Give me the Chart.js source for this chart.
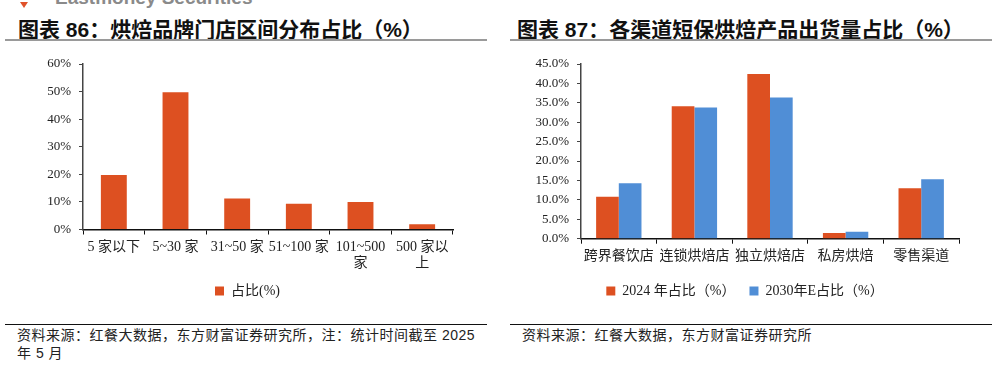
<!DOCTYPE html>
<html>
<head>
<meta charset="utf-8">
<script src="https://cdn.jsdelivr.net/npm/chart.js@4.4.1/dist/chart.umd.min.js"></script>
<style>
  html, body { margin: 0; padding: 0; background: #fff; }
  body { width: 997px; height: 367px; position: relative; overflow: hidden;
         font-family: "Liberation Sans", "Noto Sans CJK SC", sans-serif; }
  .brand { position: absolute; left: 55px; top: -13px; font-size: 19px; font-weight: bold; color: #8a8a8a; }
  .brand-mark { position: absolute; left: 20px; top: 2px; width: 0; height: 0;
                border-left: 4px solid transparent; border-right: 4px solid transparent; border-top: 6px solid #e0522a; }
  .title { position: absolute; top: 13px; font-size: 21px; font-weight: bold; color: #111; white-space: nowrap; }
  .rule { position: absolute; height: 2px; background: #9a9a9a; }
  .src-rule { position: absolute; height: 1px; background: #111; }
  .src { position: absolute; font-size: 14px; line-height: 18px; color: #222; letter-spacing: 0.5px; }
  .box { position: absolute; }
</style>
</head>
<body>
<div class="brand-mark"></div>
<div class="brand">Eastmoney Securities</div>

<div class="title" style="left:18px">图表 86：烘焙品牌门店区间分布占比（%）</div>
<div class="rule" style="left:5px; width:482px; top:39px"></div>
<div class="title" style="left:517px">图表 87：各渠道短保烘焙产品出货量占比（%）</div>
<div class="rule" style="left:510px; width:482px; top:39px"></div>

<div class="box" style="left:0; top:45px; width:500px; height:263px"><canvas id="leftChart"></canvas></div>
<div class="box" style="left:500px; top:45px; width:497px; height:263px"><canvas id="rightChart"></canvas></div>

<div class="src-rule" style="left:5px; width:482px; top:324px"></div>
<div class="src" style="left:17px; top:326px; width:470px">资料来源：红餐大数据，东方财富证券研究所，注：统计时间截至 2025<br>年 5 月</div>
<div class="src-rule" style="left:510px; width:482px; top:324px"></div>
<div class="src" style="left:522px; top:326px">资料来源：红餐大数据，东方财富证券研究所</div>

<script>
// ---- data ----
const storeRanges = ["5 家以下", "5~30 家", "31~50 家", "51~100 家", ["101~500", "家"], ["500 家以", "上"]];
const storeShare = [19.8, 49.8, 11.2, 9.3, 10.0, 1.9];
const storeLabel = "占比(%)";
const storeTicks = [0, 10, 20, 30, 40, 50, 60];

const channels = ["跨界餐饮店", "连锁烘焙店", "独立烘焙店", "私房烘焙", "零售渠道"];
const share2024 = [10.8, 34.1, 42.4, 1.5, 13.0];
const share2030 = [14.3, 33.8, 36.4, 1.8, 15.3];
const seriesNames = ["2024 年占比（%）", "2030年E占比（%）"];
const channelTicks = [0, 5, 10, 15, 20, 25, 30, 35, 40, 45];

const ORANGE = "#dd5021";
const BLUE = "#508ed6";

Chart.defaults.font.family = "'Liberation Serif', 'Noto Sans CJK SC', serif";
Chart.defaults.font.size = 13;
Chart.defaults.color = "#222";

// y axis width is fixed so the plot box lands where the original one is
function yScale(ticks, width, fmt) {
  return {
    min: ticks[0],
    max: ticks[ticks.length - 1],
    afterBuildTicks(scale) { scale.ticks = ticks.map((v) => ({ value: v })); },
    afterFit(scale) { scale.width = width; },
    border: { color: "#444", width: 1.5 },
    grid: { drawOnChartArea: false, drawTicks: true, tickLength: 4, color: "#444" },
    ticks: { padding: 8, color: "#222", font: { size: 13 }, callback: fmt },
  };
}

function xScale(height) {
  return {
    afterFit(scale) { scale.height = height; },
    border: { color: "#111", width: 1.5 },
    grid: { drawOnChartArea: false, drawTicks: true, tickLength: 5, color: "#111" },
    ticks: { padding: 4, color: "#222", font: { size: 14 }, maxRotation: 0, autoSkip: false },
  };
}

function legendOpts() {
  return {
    position: "bottom",
    labels: { boxWidth: 9, boxHeight: 9, padding: 14, color: "#222", font: { size: 14 } },
  };
}

new Chart(document.getElementById("leftChart"), {
  type: "bar",
  data: {
    labels: storeRanges,
    datasets: [{ label: storeLabel, data: storeShare, backgroundColor: ORANGE,
                 barPercentage: 0.42, categoryPercentage: 1 }],
  },
  options: {
    responsive: true, maintainAspectRatio: false, animation: false,
    layout: { padding: { top: 19, right: 47, left: 42, bottom: 0 } },
    plugins: { legend: legendOpts(), tooltip: { enabled: false } },
    scales: {
      x: xScale(40.5),
      y: yScale(storeTicks, 41, (v) => v + "%"),
    },
  },
});

new Chart(document.getElementById("rightChart"), {
  type: "bar",
  data: {
    labels: channels,
    datasets: [
      { label: seriesNames[0], data: share2024, backgroundColor: ORANGE, barPercentage: 1, categoryPercentage: 0.6 },
      { label: seriesNames[1], data: share2030, backgroundColor: BLUE, barPercentage: 1, categoryPercentage: 0.6 },
    ],
  },
  options: {
    responsive: true, maintainAspectRatio: false, animation: false,
    layout: { padding: { top: 19, right: 38, left: 31, bottom: 0 } },
    plugins: { legend: legendOpts(), tooltip: { enabled: false } },
    scales: {
      x: xScale(31.3),
      y: yScale(channelTicks, 50, (v) => v.toFixed(1) + "%"),
    },
  },
});
</script>
</body>
</html>
